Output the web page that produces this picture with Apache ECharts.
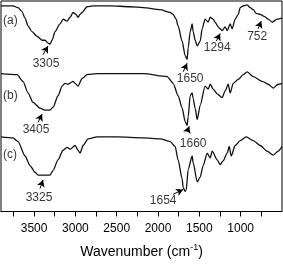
<!DOCTYPE html>
<html>
<head>
<meta charset="utf-8">
<script src="https://cdn.jsdelivr.net/npm/echarts@6/dist/echarts.min.js"></script>
<style>
  html, body { margin: 0; padding: 0; background: #fff; }
  #chart { width: 283px; height: 264px; }
</style>
</head>
<body>
<div id="chart"></div>
<script>
// wavenumbers (cm-1) and transmittance (a.u., offset per spectrum)
const wnA = [3900, 3755, 3694, 3646, 3609, 3573, 3525, 3464, 3403, 3367, 3331, 3307, 3282, 3246, 3186, 3149, 3101, 3064, 3028, 2992, 2968, 2943, 2919, 2859, 2786, 2580, 2338, 2180, 1975, 1853, 1817, 1781, 1757, 1708, 1672, 1648, 1635, 1611, 1587, 1575, 1551, 1526, 1490, 1466, 1430, 1393, 1369, 1333, 1309, 1272, 1248, 1224, 1188, 1163, 1127, 1103, 1066, 1030, 1006, 969, 921, 885, 848, 812, 764, 715, 667, 618, 558, 500];
const tA = [215, 215, 213, 209, 202, 194, 188, 183, 179, 179, 176, 175, 179, 188, 196, 201, 199, 203, 208, 206, 203, 206, 208, 214, 215, 215, 214, 213, 211, 208, 206, 201, 194, 178, 163, 159, 171, 188, 196, 188, 179, 173, 178, 191, 201, 198, 203, 201, 198, 193, 191, 189, 193, 189, 196, 191, 201, 206, 213, 215, 216, 213, 211, 207, 206, 204, 201, 198, 201, 202];

const wnB = [3900, 3706, 3634, 3573, 3512, 3428, 3367, 3307, 3270, 3210, 3161, 3125, 3089, 3028, 3004, 2968, 2919, 2859, 2737, 2180, 1890, 1817, 1757, 1708, 1672, 1648, 1635, 1611, 1587, 1575, 1551, 1526, 1490, 1430, 1393, 1369, 1333, 1284, 1224, 1188, 1151, 1127, 1090, 1030, 969, 921, 848, 739, 667, 606, 546, 500];
const tB = [144, 143, 136, 124, 114, 108, 106, 106, 109, 121, 131, 134, 133, 136, 134, 131, 139, 143, 144, 144, 141, 134, 121, 108, 94, 90, 99, 121, 124, 118, 108, 96, 111, 131, 128, 133, 128, 123, 119, 126, 133, 124, 134, 138, 143, 146, 141, 136, 133, 129, 133, 134];

const wnC = [3900, 3755, 3694, 3609, 3549, 3488, 3452, 3391, 3307, 3270, 3210, 3149, 3101, 3064, 3004, 2968, 2943, 2907, 2846, 2737, 2495, 2180, 1975, 1853, 1793, 1757, 1708, 1696, 1672, 1660, 1635, 1587, 1575, 1526, 1490, 1454, 1405, 1369, 1345, 1284, 1248, 1212, 1163, 1139, 1115, 1066, 1006, 933, 848, 764, 679, 606, 546, 500];
const tC = [78, 77, 73, 58, 48, 41, 38, 38, 38, 43, 54, 64, 67, 65, 69, 64, 61, 69, 76, 78, 78, 77, 76, 73, 68, 54, 34, 25, 21, 22, 44, 58, 51, 31, 36, 48, 61, 56, 63, 54, 49, 53, 61, 68, 58, 69, 74, 78, 74, 69, 63, 59, 63, 68];

const xTicks = [1000, 1500, 2000, 2500, 3000, 3500];

// peak annotations: text, text anchor, arrow tail -> arrow head (data coords)
const peakText = ['3305', '1650', '1294', '752', '3405', '1660', '3325', '1654'];
const peakTextPos = [[3355, 154], [1611, 139], [1284, 171], [800, 183], [3476, 86], [1575, 71], [3440, 14], [1938, 11]];
const arrowFrom = [[3391, 164], [1696, 146], [1296, 178], [788, 191], [3452, 93], [1648, 83], [3428, 24], [1817, 18]];
const arrowTo = [[3331, 173], [1648, 155], [1248, 186], [751, 199], [3403, 102], [1623, 89], [3391, 33], [1696, 23]];

const curveNames = ['(a)', '(b)', '(c)'];
const curveNamePos = [[3876, 199], [3876, 121], [3876, 59]];

const zip = (xs, ys) => xs.map((x, i) => [x, ys[i]]);
const FONT = 'Liberation Sans, Arial, sans-serif';

const chart = echarts.init(document.getElementById('chart'), null, { renderer: 'canvas' });

const lineSeries = (name, data) => ({
  name: name,
  type: 'line',
  data: data,
  showSymbol: false,
  smooth: 0.25,
  smoothMonotone: 'x',
  lineStyle: { color: '#111', width: 1.3 },
  silent: true,
  z: 2
});

const option = {
  animation: false,
  backgroundColor: '#fff',
  grid: {
    left: 1, right: 1, top: 1, bottom: 43,
    show: true, borderColor: '#000', borderWidth: 1
  },
  xAxis: {
    type: 'value',
    inverse: true,
    min: 500,
    max: 3900,
    interval: 250,
    name: '{n|Wavenumber (cm}{s|-1}{n|)}',
    nameLocation: 'middle',
    nameGap: 32,
    nameTextStyle: {
      rich: {
        n: { fontSize: 14, fontFamily: FONT, color: '#000' },
        s: { fontSize: 9, fontFamily: FONT, color: '#000', verticalAlign: 'top', padding: [0, 0, 8, 0] }
      }
    },
    axisLine: { show: true, lineStyle: { color: '#000', width: 1 } },
    axisTick: { show: true, length: 5, lineStyle: { color: '#000' } },
    splitLine: { show: false },
    axisLabel: {
      showMinLabel: false,
      showMaxLabel: false,
      margin: 11,
      fontSize: 12,
      fontFamily: FONT,
      color: '#000',
      formatter: v => xTicks.includes(v) ? String(v) : ''
    }
  },
  yAxis: {
    type: 'value',
    min: 0,
    max: 220,
    show: false,
    splitLine: { show: false }
  },
  series: [
    lineSeries('a', zip(wnA, tA)),
    lineSeries('b', zip(wnB, tB)),
    lineSeries('c', zip(wnC, tC)),
    {
      type: 'scatter',
      symbolSize: 0,
      silent: true,
      data: peakText.map((t, i) => ({ name: t, value: peakTextPos[i] })),
      label: {
        show: true, position: 'inside', formatter: '{b}',
        fontSize: 12, fontFamily: FONT, color: '#000'
      },
      markLine: {
        silent: true,
        symbol: ['none', 'arrow'],
        symbolSize: [6, 7],
        label: { show: false },
        lineStyle: { color: '#000', width: 1, type: 'solid' },
        data: arrowFrom.map((f, i) => [{ coord: f }, { coord: arrowTo[i] }])
      }
    },
    {
      type: 'scatter',
      symbolSize: 0,
      silent: true,
      data: curveNames.map((t, i) => ({ name: t, value: curveNamePos[i] })),
      label: {
        show: true, position: 'inside', align: 'left', formatter: '{b}',
        fontSize: 12, fontFamily: FONT, color: '#000'
      }
    }
  ]
};

chart.setOption(option);
</script>
</body>
</html>
